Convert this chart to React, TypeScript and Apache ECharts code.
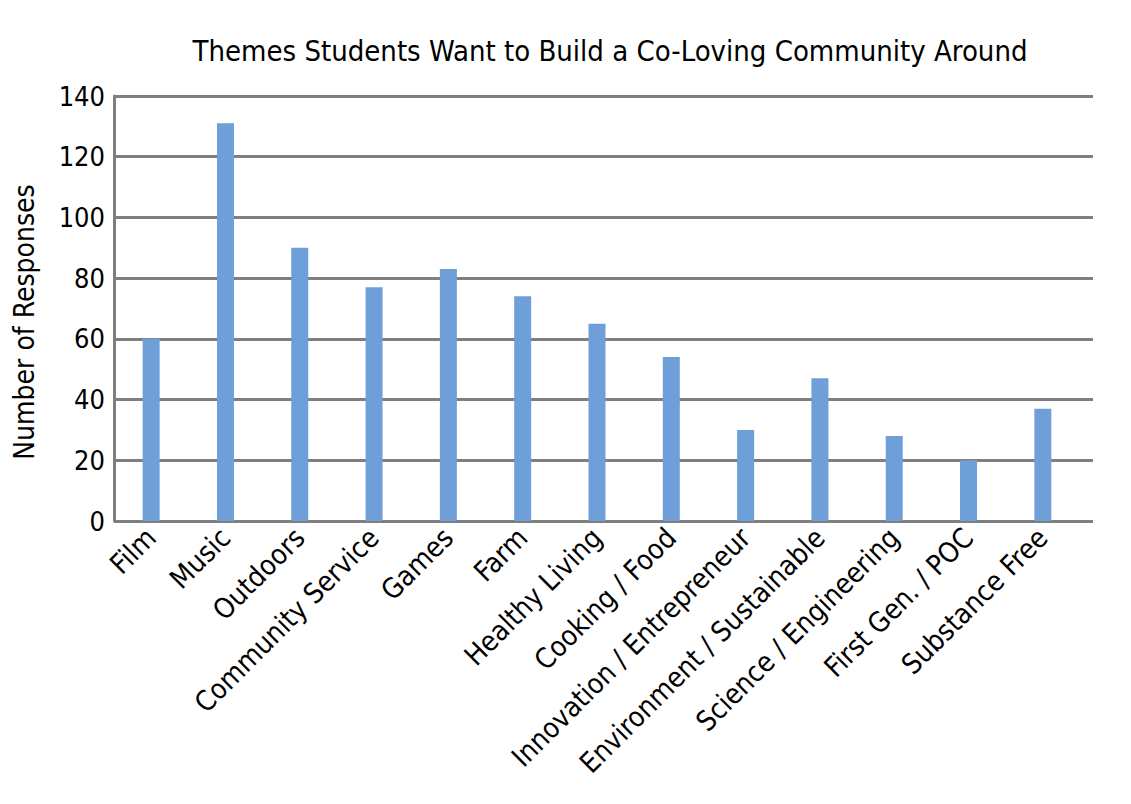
import React, { useEffect, useRef } from "react";
import * as echarts from "echarts";

const titleText = "Themes Students Want to Build a Co-Loving Community Around";
const yAxisName = "Number of Responses";
const categories = [
  "Film",
  "Music",
  "Outdoors",
  "Community Service",
  "Games",
  "Farm",
  "Healthy Living",
  "Cooking / Food",
  "Innovation / Entrepreneur",
  "Environment / Sustainable",
  "Science / Engineering",
  "First Gen. / POC",
  "Substance Free",
];
const responses = [60, 131, 90, 77, 83, 74, 65, 54, 30, 47, 28, 20, 37];
const yMin = 0;
const yMax = 140;
const yStep = 20;

const FONT = '"DejaVu Sans Condensed", "DejaVu Sans", sans-serif';

export default function App() {
  const ref = useRef<HTMLDivElement>(null);
  useEffect(() => {
    document.body.style.margin = "0";
    const chart = echarts.init(ref.current!, null, { renderer: "svg" });
    chart.setOption({
      animation: false,
      backgroundColor: "#ffffff",
      title: {
        text: titleText,
        left: 605,
        textAlign: "center",
        top: 31,
        textStyle: { fontFamily: FONT, fontSize: 29, fontWeight: "normal", color: "#000" },
      },
      graphic: [
        {
          type: "text",
          x: 24,
          y: 322,
          rotation: Math.PI / 2,
          style: {
            text: yAxisName,
            fontFamily: FONT,
            fontSize: 28,
            fill: "#000",
            textAlign: "center",
            textVerticalAlign: "middle",
          },
        },
      ],
      grid: [
        { left: 114, right: 51, top: 96, bottom: 283 },
        { left: 114, right: 38, top: 96, bottom: 283 },
      ],
      xAxis: [
        {
          type: "category",
          gridIndex: 0,
          data: categories,
          axisLine: { show: false },
          axisTick: { show: false },
          axisLabel: {
            interval: 0,
            rotate: 45,
            margin: 12,
            fontSize: 28,
            fontFamily: FONT,
            color: "#000",
          },
        },
        {
          type: "value",
          gridIndex: 1,
          show: false,
          min: 0,
          max: 1,
        },
      ],
      yAxis: [
        {
          type: "value",
          gridIndex: 0,
          min: yMin,
          max: yMax,
          interval: yStep,
          splitLine: { show: false },
          axisLine: { show: false },
          axisTick: { show: false },
          axisLabel: { margin: 9, fontSize: 27, fontFamily: FONT, color: "#000" },
        },
        {
          type: "value",
          gridIndex: 1,
          min: yMin,
          max: yMax,
          interval: yStep,
          axisLabel: { show: false },
          axisTick: { show: false },
          axisLine: { show: true, lineStyle: { color: "#7f7f7f", width: 3 } },
          splitLine: { show: true, lineStyle: { color: "#7f7f7f", width: 3 } },
        },
      ],
      series: [
        {
          type: "bar",
          xAxisIndex: 0,
          yAxisIndex: 0,
          data: responses,
          barWidth: 17,
          itemStyle: { color: "#6E9FD8" },
          z: 3,
        },
      ],
    });
    return () => chart.dispose();
  }, []);
  return <div ref={ref} style={{ width: 1131, height: 804 }} />;
}
